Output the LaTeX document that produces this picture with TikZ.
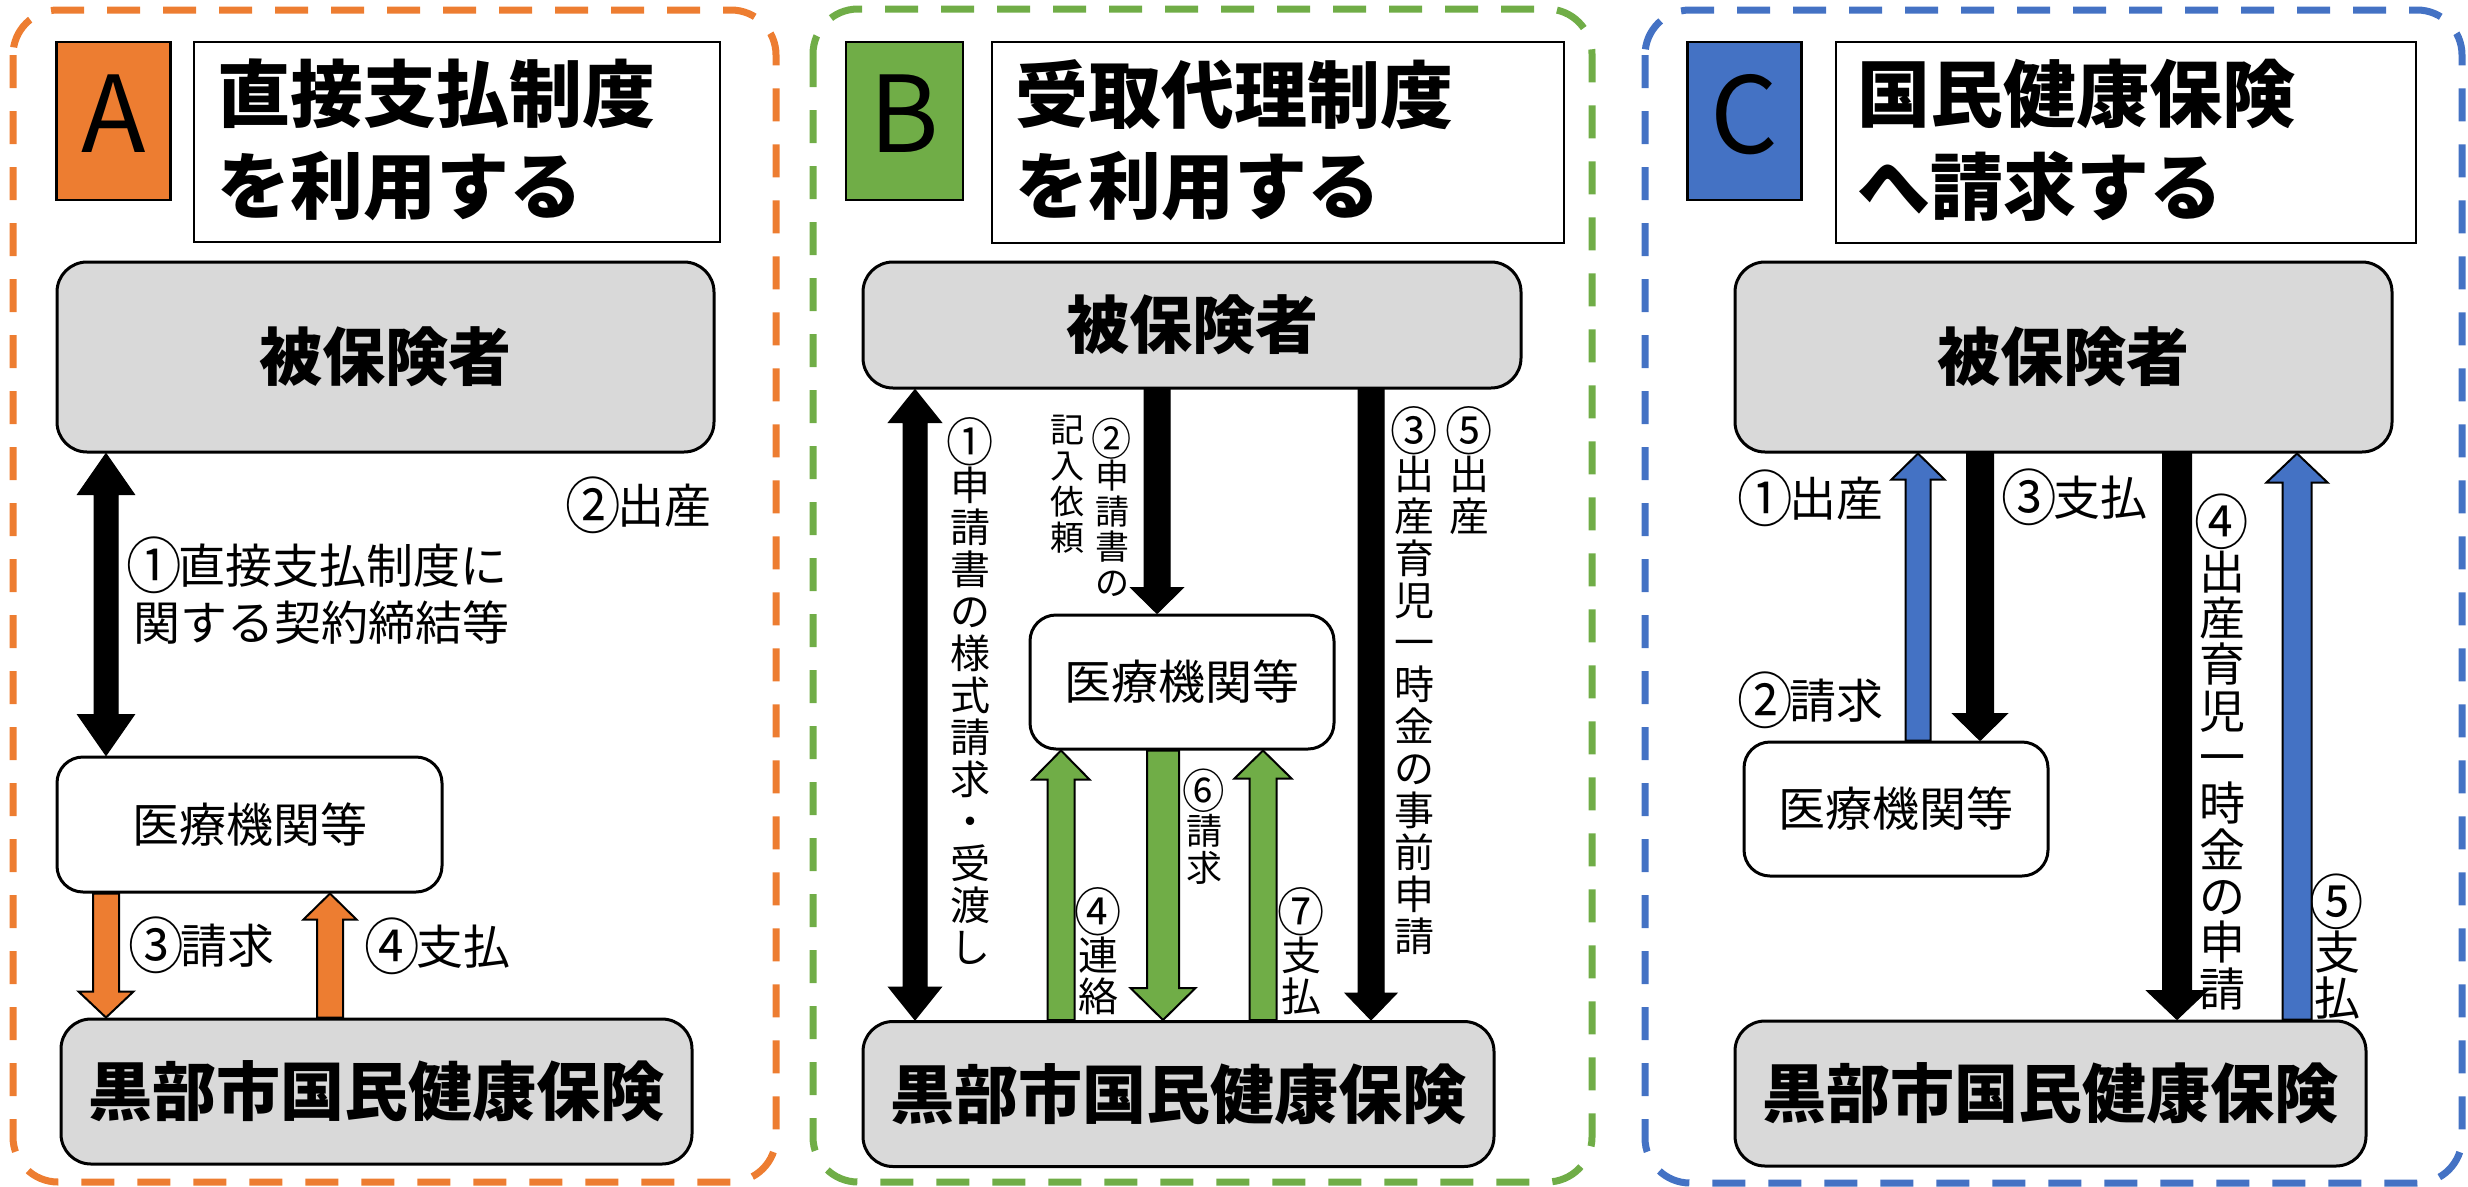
\documentclass[tikz,border=0pt]{standalone}
\usepackage{fontspec}
\setmainfont{Noto Sans CJK JP}
\usetikzlibrary{calc}
\definecolor{cOr}{HTML}{ED7D31}
\definecolor{cGr}{HTML}{70AD47}
\definecolor{cBl}{HTML}{4472C4}
\definecolor{cGy}{HTML}{D9D9D9}
\newcommand\fs[2]{\fontsize{#1}{#2}\selectfont}
% circled digit, enlarged to the proportions of the reference font
\newcommand\cd[1]{\makebox[1em][c]{\raisebox{-0.11em}{\scalebox{1.18}[1.3]{#1}}}}
% single block arrow: style, x, tail, tip, shaft half width, head half width, head length
\newcommand\sarrow[7]{%
  \draw[#1] let \p1=(#3), \p2=(#4), \n1={sign(\y2-\y1)} in
    ({#2-#5},\y1) -- ({#2-#5},{\y2-(\n1)*#7}) -- ({#2-#6},{\y2-(\n1)*#7}) -- (#2,\y2)
    -- ({#2+#6},{\y2-(\n1)*#7}) -- ({#2+#5},{\y2-(\n1)*#7}) -- ({#2+#5},\y1) -- cycle;}
% double block arrow
\newcommand\darrow[7]{%
  \draw[#1] let \p1=(#3), \p2=(#4), \n1={sign(\y2-\y1)} in
    (#2,\y1) -- ({#2+#6},{\y1+(\n1)*#7}) -- ({#2+#5},{\y1+(\n1)*#7})
    -- ({#2+#5},{\y2-(\n1)*#7}) -- ({#2+#6},{\y2-(\n1)*#7}) -- (#2,\y2)
    -- ({#2-#6},{\y2-(\n1)*#7}) -- ({#2-#5},{\y2-(\n1)*#7})
    -- ({#2-#5},{\y1+(\n1)*#7}) -- ({#2-#6},{\y1+(\n1)*#7}) -- cycle;}
\tikzset{
  frame/.style={dash pattern=on 33pt off 23pt, line width=7pt, rounded corners=45pt},
  letbox/.style={draw, line width=2.5pt, inner sep=0pt, minimum width=114pt, minimum height=158pt, font=\fs{106}{106}, text depth=14pt},
  titbox/.style={draw, line width=2pt, inner sep=0pt},
  tittxt/.style={anchor=north west, inner sep=0pt, font=\bfseries\fs{73}{91}},
  graybox/.style={draw, fill=cGy, line width=3pt, rounded corners=30pt, inner sep=0pt, font=\bfseries\fs{63}{63}},
  nhibox/.style={graybox, minimum width=631pt, minimum height=145pt, font=\bfseries\fs{64}{64}},
  hospbox/.style={draw, fill=white, line width=3pt, rounded corners=26pt, inner sep=0pt, font=\fs{47}{47}},
  lab/.style={anchor=west, inner sep=0pt, font=\fs{47}{58}},
  vlab/.style={anchor=north, inner sep=0pt, align=center},
  arrK/.style={fill=black, draw=black, line width=1pt},
  arrO/.style={fill=cOr, draw=black, line width=2pt},
  arrG/.style={fill=cGr, draw=black, line width=2pt},
  arrB/.style={fill=cBl, draw=black, line width=2pt},
}
\begin{document}
\begin{tikzpicture}[x=1pt,y=-1pt]
\useasboundingbox (0,0) rectangle (2468,1186);
% ---------------- frames
\draw[frame, cOr] (13,10) rectangle (776,1182);
\draw[frame, cGr] (813,9) rectangle (1592,1182);
\draw[frame, cBl] (1645,10) rectangle (2462,1183);

% ---------------- Panel A
\node[letbox, fill=cOr] (letA) at (113.5,121) {A};
\node[titbox, minimum width=526pt, minimum height=200pt] (titA) at (457,142) {};
\node[tittxt] (titA1) at (217,59) {直接支払制度};
\node[tittxt] (titA2) at (217,151) {を利用する};
\node[graybox, minimum width=657pt, minimum height=190pt] (insA) at (385.5,357) {被保険者};
\node[hospbox, minimum width=385pt, minimum height=135pt] (hospA) at (249.5,824.5) {医療機関等};
\node[nhibox] (nhiA) at (376.5,1091.5) {黒部市国民健康保険};
\node[lab] (lA2) at (570,505) {\cd{②}出産};
\node[lab] (lA1a) at (131,565) {\cd{①}直接支払制度に};
\node[lab] (lA1b) at (133,623) {関する契約締結等};
\node[lab] (lA3) at (133,945) {\cd{③}請求};
\node[lab] (lA4) at (369,946) {\cd{④}支払};
\darrow{arrK}{106}{insA.south}{hospA.north}{12}{28.5}{41}
\sarrow{arrO}{106}{hospA.south}{nhiA.north}{13}{27.5}{26}
\sarrow{arrO}{330}{nhiA.north}{hospA.south}{13}{26.5}{26}

% ---------------- Panel B
\node[letbox, fill=cGr, minimum width=117pt] (letB) at (904.5,121) {B};
\node[titbox, minimum width=572pt, minimum height=201pt] (titB) at (1278,142.5) {};
\node[tittxt] (titB1) at (1015,59) {受取代理制度};
\node[tittxt] (titB2) at (1015,151) {を利用する};
\node[graybox, minimum width=658pt, minimum height=126pt] (insB) at (1192,325) {被保険者};
\node[hospbox, minimum width=304pt, minimum height=134pt] (hospB) at (1182,682) {医療機関等};
\node[nhibox] (nhiB) at (1178.5,1094) {黒部市国民健康保険};
\node[vlab, font=\fs{40}{42}] (lB1) at (970,417) {\cd{①}\\申\\請\\書\\の\\様\\式\\請\\求\\・\\受\\渡\\し};
\node[vlab, font=\fs{34}{35.5}] (lB2a) at (1112,418) {\cd{②}\\申\\請\\書\\の};
\node[vlab, font=\fs{34}{36}] (lB2b) at (1067,415) {記\\入\\依\\頼};
\node[vlab, font=\fs{40}{42}] (lB3) at (1414,406) {\cd{③}\\出\\産\\育\\児\\一\\時\\金\\の\\事\\前\\申\\請};
\node[vlab, font=\fs{40}{42}] (lB5) at (1469,406) {\cd{⑤}\\出\\産};
\node[vlab, font=\fs{36}{37}] (lB6) at (1204,769) {\cd{⑥}\\請\\求};
\node[vlab, font=\fs{40}{41}] (lB4) at (1098,887) {\cd{④}\\連\\絡};
\node[vlab, font=\fs{40}{41}] (lB7) at (1301,887) {\cd{⑦}\\支\\払};
\darrow{arrK}{915}{insB.south}{nhiB.north}{12}{26.5}{33}
\sarrow{arrK}{1157}{insB.south}{hospB.north}{13}{26.5}{26}
\sarrow{arrK}{1371}{insB.south}{nhiB.north}{13}{26}{27}
\sarrow{arrG}{1061}{nhiB.north}{hospB.south}{13.5}{28.5}{29}
\sarrow{arrG}{1163}{hospB.south}{nhiB.north}{16}{32.5}{32}
\sarrow{arrG}{1263}{nhiB.north}{hospB.south}{13.5}{28.5}{28}

% ---------------- Panel C
\node[letbox, fill=cBl] (letC) at (1744.5,121) {C};
\node[titbox, minimum width=580pt, minimum height=201pt] (titC) at (2126,142.5) {};
\node[tittxt] (titC1) at (1857,59) {国民健康保険};
\node[tittxt] (titC2) at (1857,151) {へ請求する};
\node[graybox, minimum width=657pt, minimum height=190pt] (insC) at (2063.5,357) {被保険者};
\node[hospbox, minimum width=304pt, minimum height=134pt] (hospC) at (1896,809) {医療機関等};
\node[nhibox] (nhiC) at (2050.5,1093.5) {黒部市国民健康保険};
\node[lab] (lC1) at (1742,498) {\cd{①}出産};
\node[lab] (lC3) at (2006,497) {\cd{③}支払};
\node[lab] (lC2) at (1742,700) {\cd{②}請求};
\node[vlab, font=\fs{46}{46.3}] (lC4) at (2222,494) {\cd{④}\\出\\産\\育\\児\\一\\時\\金\\の\\申\\請};
\node[vlab, font=\fs{46}{46.3}] (lC5) at (2337,874) {\cd{⑤}\\支\\払};
\sarrow{arrB}{1918}{hospC.north}{insC.south}{12.5}{26.5}{26}
\sarrow{arrK}{1980}{insC.south}{hospC.north}{13.5}{27.5}{27}
\sarrow{arrK}{2177}{insC.south}{nhiC.north}{14.5}{30.5}{29}
\sarrow{arrB}{2297}{nhiC.north}{insC.south}{14.5}{30.5}{29}
\end{tikzpicture}
\end{document}
